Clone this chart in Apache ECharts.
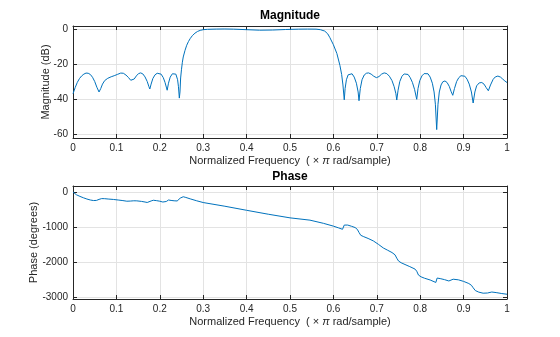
<!DOCTYPE html>
<html>
<head>
<meta charset="utf-8">
<script src="https://cdn.jsdelivr.net/npm/echarts@6/dist/echarts.min.js"></script>
<style>html,body{margin:0;padding:0;background:#fff}#c{width:560px;height:337px}</style>
</head>
<body>
<div id="c"></div>
<script>
// ---- Data (normalized frequency, x pi rad/sample) ----
var magFreq = [0,0.005,0.010,0.015,0.020,0.025,0.030,0.035,0.040,0.045,0.050,0.055,0.060,0.064,0.068,0.073,0.080,0.088,0.095,0.103,0.110,0.116,0.122,0.128,0.133,0.137,0.141,0.146,0.151,0.156,0.161,0.166,0.171,0.175,0.177,0.180,0.184,0.189,0.194,0.198,0.203,0.208,0.212,0.215,0.217,0.220,0.224,0.229,0.233,0.237,0.241,0.243,0.245,0.2465,0.248,0.250,0.252,0.254,0.258,0.262,0.266,0.270,0.275,0.281,0.287,0.293,0.300,0.310,0.330,0.350,0.370,0.400,0.430,0.460,0.490,0.520,0.540,0.560,0.570,0.580,0.587,0.592,0.600,0.608,0.615,0.619,0.622,0.625,0.627,0.630,0.634,0.638,0.643,0.648,0.653,0.657,0.659,0.662,0.666,0.671,0.676,0.681,0.687,0.693,0.699,0.705,0.711,0.717,0.723,0.729,0.735,0.740,0.744,0.746,0.749,0.753,0.758,0.763,0.767,0.772,0.777,0.782,0.787,0.792,0.795,0.799,0.804,0.809,0.813,0.818,0.823,0.828,0.832,0.835,0.838,0.841,0.844,0.848,0.852,0.857,0.862,0.867,0.871,0.875,0.879,0.884,0.889,0.894,0.898,0.903,0.908,0.913,0.918,0.922,0.926,0.930,0.936,0.942,0.947,0.952,0.957,0.962,0.968,0.973,0.979,0.985,0.990,0.995,1.000];
var magDb = [-37,-33.5,-30.5,-28.3,-26.8,-25.8,-25.2,-25.3,-26,-27.6,-30,-33.3,-36,-34,-31.5,-29.5,-28.2,-27.3,-26.7,-25.9,-25.2,-25.3,-26.3,-27.8,-29.3,-29.8,-28.6,-26.8,-25.5,-25.1,-25.7,-27.4,-30.0,-33.0,-34.3,-31.5,-28.3,-26.2,-25.3,-25.1,-25.8,-27.8,-30.5,-33.2,-35,-31,-27.5,-25.6,-25.1,-25.8,-29,-33,-39.5,-36,-28,-23,-19,-16,-12.3,-9.3,-7.2,-5.5,-3.8,-2.4,-1.4,-0.8,-0.4,-0.2,-0.05,0,-0.1,-0.4,-0.7,-0.6,-0.3,-0.1,-0.05,-0.1,-0.4,-1.2,-2.8,-5,-9,-14,-20.8,-26,-32,-40.5,-34,-29,-26.2,-25.1,-25.6,-27.5,-31,-36,-41,-34,-29,-26.3,-25.3,-25.1,-25.8,-27,-27.8,-27.2,-25.8,-25.1,-25.5,-27,-29.5,-33,-37,-40.6,-35,-30,-27,-25.7,-25.5,-26,-27.8,-30.5,-34.5,-40.2,-34,-29.5,-26.8,-25.5,-25.1,-25.6,-27.5,-31,-36,-43,-57.5,-43,-36,-32,-30.2,-29.7,-30.6,-32.8,-35.6,-37.9,-34,-30,-27.8,-26.7,-26.5,-27,-28.7,-31.5,-36,-42.3,-36,-32.5,-30.8,-30.6,-31.5,-33.5,-35.3,-32,-28.8,-27.4,-26.9,-27.5,-28.6,-29.7,-30.6];

var phaseFreq = [0,0.008,0.016,0.024,0.032,0.040,0.047,0.054,0.060,0.066,0.073,0.081,0.093,0.104,0.115,0.124,0.132,0.140,0.147,0.158,0.166,0.171,0.175,0.180,0.185,0.192,0.200,0.207,0.211,0.215,0.220,0.226,0.233,0.240,0.244,0.247,0.250,0.254,0.260,0.270,0.285,0.300,0.350,0.400,0.450,0.500,0.546,0.577,0.600,0.612,0.621,0.625,0.633,0.642,0.650,0.655,0.659,0.663,0.670,0.680,0.692,0.704,0.715,0.725,0.735,0.742,0.746,0.750,0.756,0.765,0.776,0.788,0.792,0.796,0.802,0.810,0.823,0.836,0.839,0.846,0.856,0.866,0.876,0.888,0.900,0.912,0.918,0.922,0.927,0.935,0.945,0.955,0.965,0.975,0.988,1.000];
var phaseDeg = [0,-80,-125,-165,-200,-228,-243,-240,-210,-188,-190,-200,-212,-228,-245,-262,-258,-250,-252,-268,-285,-298,-290,-255,-235,-245,-262,-285,-292,-270,-228,-240,-250,-255,-260,-175,-140,-135,-155,-195,-250,-300,-405,-520,-632,-735,-800,-890,-970,-1020,-1060,-940,-940,-975,-1010,-1060,-1150,-1230,-1270,-1320,-1390,-1490,-1590,-1655,-1720,-1785,-1880,-1960,-2010,-2060,-2120,-2190,-2250,-2360,-2410,-2450,-2500,-2570,-2445,-2460,-2490,-2528,-2478,-2495,-2540,-2600,-2650,-2720,-2800,-2845,-2875,-2870,-2842,-2858,-2885,-2905];

var xTicks = [0,0.1,0.2,0.3,0.4,0.5,0.6,0.7,0.8,0.9,1];
var magTicks = [-60,-40,-20,0];
var phaseTicks = [-3000,-2000,-1000,0];

function pairs(xs, ys){ var out=[]; for (var i=0;i<xs.length;i++) out.push([xs[i], ys[i]]); return out; }

var FONT = '"Liberation Sans", Arial, Helvetica, sans-serif';
var AX = '#262626';
var GRID = '#e3e3e3';
var LINE = '#0072BD';

function xAxisMain(gi){
  return {
    type:'value', gridIndex:gi, min:0, max:1, position:'bottom',
    axisLine:{show:true,onZero:false,lineStyle:{color:AX,width:1}},
    axisTick:{show:true,inside:true,length:4,customValues:xTicks,lineStyle:{color:AX}},
    axisLabel:{show:true,customValues:xTicks,color:AX,fontSize:10,fontFamily:FONT,margin:5,
      formatter:function(v){return String(Math.round(v*10)/10);}},
    splitLine:{show:true,lineStyle:{color:GRID,width:1}},
    name:'Normalized Frequency  ( \u00d7 {i|\u03c0} rad/sample)',
    nameLocation:'middle', nameGap:17, nameMoveOverlap:false,
    nameTextStyle:{color:AX,fontSize:11,fontFamily:FONT,rich:{i:{fontStyle:'italic',fontSize:11,fontFamily:FONT,color:AX}}}
  };
}
function xAxisTop(gi){
  return {
    type:'value', gridIndex:gi, min:0, max:1, position:'top',
    axisLine:{show:true,onZero:false,lineStyle:{color:AX,width:1}},
    axisTick:{show:true,inside:true,length:4,customValues:xTicks,lineStyle:{color:AX}},
    axisLabel:{show:false}, splitLine:{show:false}
  };
}
function yAxisMain(gi,min,max,ticks,name,gap){
  return {
    type:'value', gridIndex:gi, min:min, max:max, position:'left',
    axisLine:{show:true,onZero:false,lineStyle:{color:AX,width:1}},
    axisTick:{show:true,inside:true,length:4,customValues:ticks,lineStyle:{color:AX}},
    axisLabel:{show:true,customValues:ticks,color:AX,fontSize:10,fontFamily:FONT,margin:5,
      formatter:function(v){return String(Math.round(v));}},
    splitLine:{show:true,lineStyle:{color:GRID,width:1}},
    name:name, nameLocation:'middle', nameGap:gap, nameRotate:90, nameMoveOverlap:false,
    nameTextStyle:{color:AX,fontSize:11,fontFamily:FONT}
  };
}
function yAxisRight(gi,min,max,ticks){
  return {
    type:'value', gridIndex:gi, min:min, max:max, position:'right',
    axisLine:{show:true,onZero:false,lineStyle:{color:AX,width:1}},
    axisTick:{show:true,inside:true,length:4,customValues:ticks,lineStyle:{color:AX}},
    axisLabel:{show:false}, splitLine:{show:false}
  };
}

var chart = echarts.init(document.getElementById('c'), null, {renderer:'canvas'});
chart.setOption({
  animation:false,
  backgroundColor:'#ffffff',
  grid:[
    {left:73, right:53, top:26, height:112, containLabel:false},
    {left:73, right:53, top:186, height:113, containLabel:false}
  ],
  xAxis:[xAxisMain(0), xAxisTop(0), xAxisMain(1), xAxisTop(1)],
  yAxis:[
    yAxisMain(0,-62.3,1.7,magTicks,'Magnitude (dB)',22),
    yAxisRight(0,-62.3,1.7,magTicks),
    yAxisMain(1,-3040,170,phaseTicks,'Phase (degrees)',34),
    yAxisRight(1,-3040,170,phaseTicks)
  ],
  graphic:[
    {type:'text', id:'t1', x:290, y:16, style:{text:'Magnitude', font:'bold 12px '+FONT, fill:'#000', align:'center', verticalAlign:'middle'}},
    {type:'text', id:'t2', x:290, y:177, style:{text:'Phase', font:'bold 12px '+FONT, fill:'#000', align:'center', verticalAlign:'middle'}}
  ],
  series:[
    {type:'line', xAxisIndex:0, yAxisIndex:0, data:pairs(magFreq,magDb), showSymbol:false, symbol:'none',
      lineStyle:{color:LINE,width:1}, clip:true},
    {type:'line', xAxisIndex:2, yAxisIndex:2, data:pairs(phaseFreq,phaseDeg), showSymbol:false, symbol:'none',
      lineStyle:{color:LINE,width:1}, clip:true}
  ]
});
</script>
</body>
</html>
